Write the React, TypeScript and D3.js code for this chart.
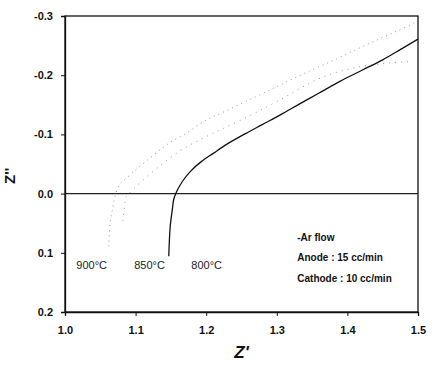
import React, { useRef, useEffect } from "react";
import * as d3 from "d3";

type Pt = [number, number];

// Z' (x) / Z'' (y) points
const curve900: Pt[] = [
  [1.062, 0.089], [1.064, 0.049], [1.068, 0.022], [1.071, 0.005], [1.076, -0.013],
  [1.085, -0.024], [1.146, -0.084], [1.173, -0.103], [1.198, -0.123], [1.225, -0.138],
  [1.271, -0.164], [1.309, -0.186], [1.346, -0.207], [1.38, -0.225], [1.412, -0.243],
  [1.441, -0.259], [1.469, -0.274], [1.497, -0.29],
];

const curve850: Pt[] = [
  [1.082, 0.046], [1.085, 0.015], [1.086, 0.007], [1.159, -0.069], [1.203, -0.098],
  [1.224, -0.11], [1.259, -0.13], [1.285, -0.146], [1.313, -0.164], [1.341, -0.183],
  [1.37, -0.199], [1.412, -0.213], [1.462, -0.221], [1.489, -0.223],
];

const curve800: Pt[] = [
  [1.147, 0.106], [1.149, 0.056], [1.152, 0.027], [1.154, 0.01], [1.158, -0.003],
  [1.166, -0.02], [1.178, -0.038], [1.193, -0.054], [1.21, -0.068], [1.23, -0.084],
  [1.255, -0.101], [1.28, -0.117], [1.305, -0.133], [1.333, -0.152], [1.36, -0.17],
  [1.39, -0.19], [1.42, -0.208], [1.45, -0.226], [1.476, -0.244], [1.5, -0.261],
];

const xTicks = [1.0, 1.1, 1.2, 1.3, 1.4, 1.5];
const yTicks = [-0.3, -0.2, -0.1, 0.0, 0.1, 0.2];
const tempLabels = [
  { text: "900°C", x: 1.016 },
  { text: "850°C", x: 1.098 },
  { text: "800°C", x: 1.179 },
];
const noteLines = ["-Ar flow", "Anode : 15 cc/min", "Cathode : 10 cc/min"];

export default function App() {
  const svgRef = useRef<SVGSVGElement>(null);

  useEffect(() => {
    if (!svgRef.current) return;
    const svg = d3.select(svgRef.current);
    svg.selectAll("*").remove();

    const width = 432;
    const height = 366;
    const margin = { top: 16, right: 14, bottom: 54, left: 65 };
    const innerWidth = width - margin.left - margin.right;
    const innerHeight = height - margin.top - margin.bottom;
    const font = "Arial, 'Liberation Sans', sans-serif";

    const x = d3.scaleLinear().domain([1.0, 1.5]).range([0, innerWidth]);
    const y = d3.scaleLinear().domain([-0.3, 0.2]).range([0, innerHeight]);

    const g = svg.append("g").attr("transform", `translate(${margin.left},${margin.top})`);

    // frame
    g.append("rect")
      .attr("width", innerWidth)
      .attr("height", innerHeight)
      .attr("fill", "none")
      .attr("stroke", "#111")
      .attr("stroke-width", 1.3);

    // zero line
    g.append("line")
      .attr("x1", 0).attr("x2", innerWidth)
      .attr("y1", y(0)).attr("y2", y(0))
      .attr("stroke", "#222").attr("stroke-width", 1.2);

    const xAxis = g.append("g")
      .attr("transform", `translate(0,${innerHeight})`)
      .call(d3.axisBottom(x).tickValues(xTicks).tickSize(4).tickPadding(10).tickFormat(d => (d as number).toFixed(1)));
    const yAxis = g.append("g")
      .call(d3.axisLeft(y).tickValues(yTicks).tickSize(4).tickPadding(8).tickFormat(d => (d as number).toFixed(1)));

    [xAxis, yAxis].forEach(a => {
      a.select(".domain").attr("stroke", "#111").attr("stroke-width", 1.3);
      a.selectAll(".tick line").attr("stroke", "#111");
      a.selectAll("text")
        .style("font-family", font)
        .style("font-size", "11px")
        .style("font-weight", "bold")
        .attr("fill", "#111");
    });

    const line = d3.line<Pt>()
      .x(d => x(d[0]))
      .y(d => y(d[1]))
      .curve(d3.curveCatmullRom);

    g.append("path").datum(curve900)
      .attr("d", line).attr("fill", "none")
      .attr("stroke", "#999").attr("stroke-width", 1)
      .attr("stroke-dasharray", "1,4");
    g.append("path").datum(curve850)
      .attr("d", line).attr("fill", "none")
      .attr("stroke", "#999").attr("stroke-width", 1)
      .attr("stroke-dasharray", "1,5");
    g.append("path").datum(curve800)
      .attr("d", line).attr("fill", "none")
      .attr("stroke", "#111").attr("stroke-width", 1.3);

    // temperature labels
    g.selectAll(".temp")
      .data(tempLabels)
      .enter()
      .append("text")
      .attr("x", d => x(d.x))
      .attr("y", y(0.128))
      .style("font-family", font)
      .style("font-size", "11px")
      .attr("fill", "#222")
      .text(d => d.text);

    // flow notes
    g.selectAll(".note")
      .data(noteLines)
      .enter()
      .append("text")
      .attr("x", x(1.329))
      .attr("y", (_, i) => y(0.08) + i * 20.5)
      .style("font-family", font)
      .style("font-size", "10px")
      .style("font-weight", "bold")
      .attr("fill", "#111")
      .text(d => d);

    // axis titles
    g.append("text")
      .attr("x", x(1.25))
      .attr("y", innerHeight + 46)
      .attr("text-anchor", "middle")
      .style("font-family", font)
      .style("font-size", "17px")
      .style("font-weight", "bold")
      .style("font-style", "italic")
      .attr("fill", "#111")
      .text("Z'");

    g.append("text")
      .attr("transform", `translate(${-50},${y(-0.03)}) rotate(-90)`)
      .attr("text-anchor", "middle")
      .style("font-family", font)
      .style("font-size", "15px")
      .style("font-weight", "bold")
      .attr("fill", "#111")
      .text("Z''");
  }, []);

  return (
    <svg
      ref={svgRef}
      width={432}
      height={366}
      style={{ position: "absolute", left: 0, top: 0, background: "#fff" }}
    />
  );
}
